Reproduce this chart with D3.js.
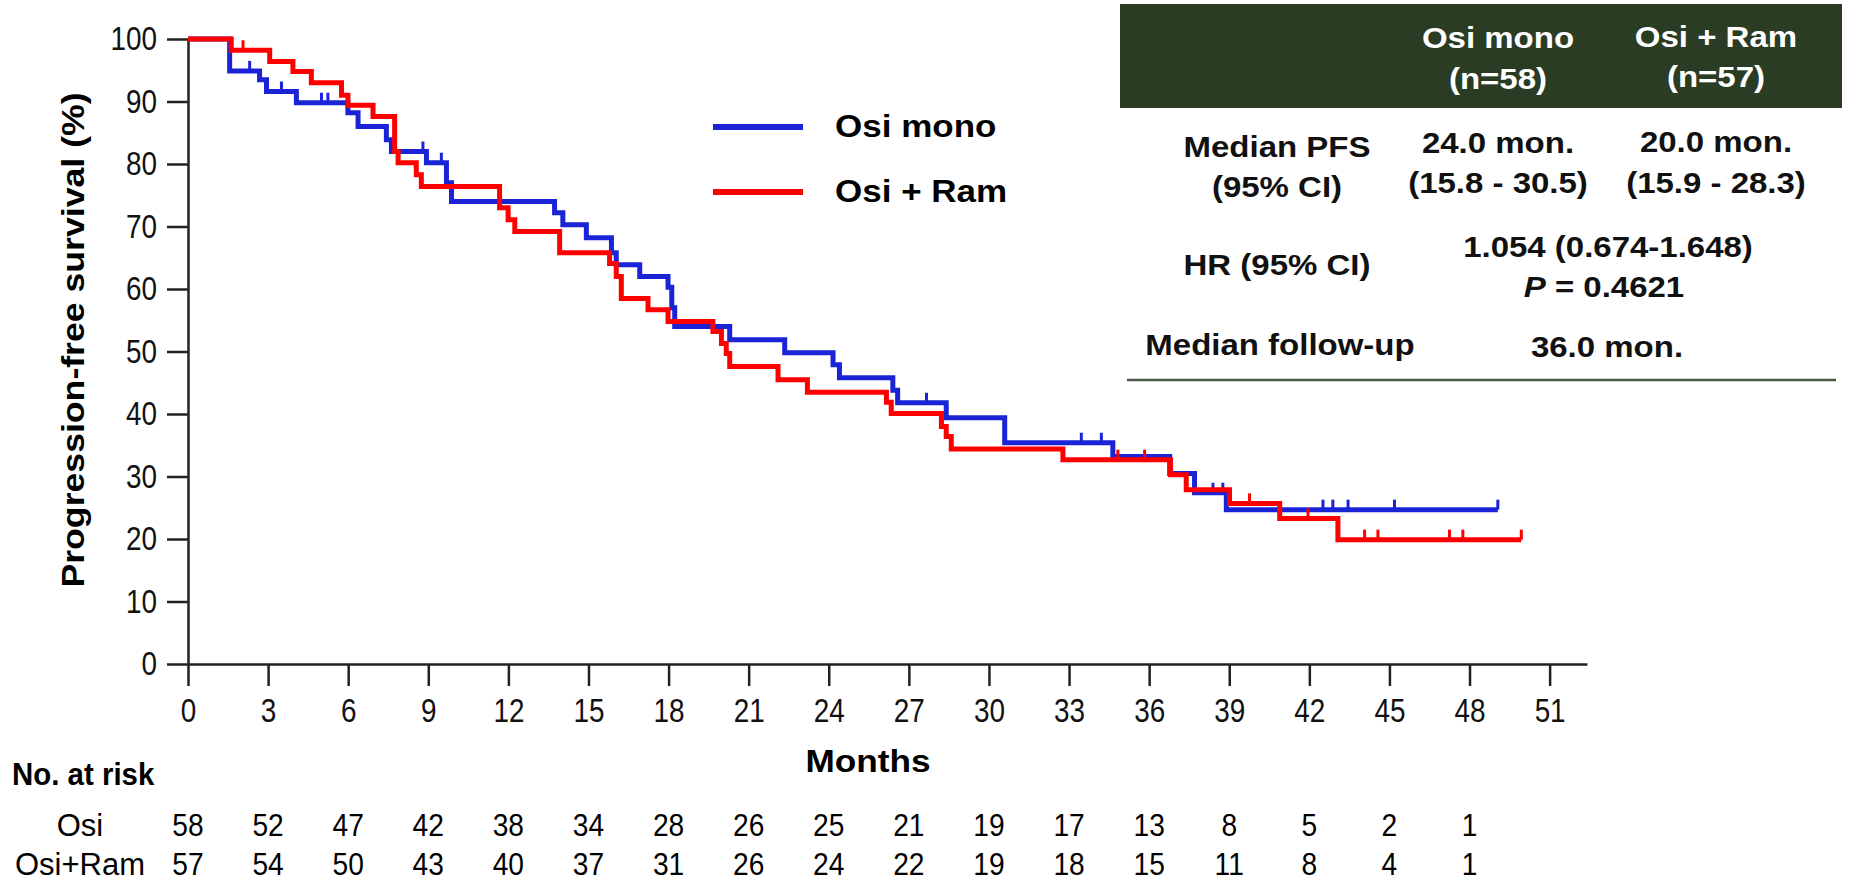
<!DOCTYPE html>
<html>
<head>
<meta charset="utf-8">
<script src="https://cdn.jsdelivr.net/npm/d3@7"></script>
<style>
  body { margin: 0; background: #fff; }
  text { font-family: "Liberation Sans", Arial, sans-serif; }
  .bold { font-weight: bold; }
</style>
</head>
<body>
<div id="chart"></div>
<script>
// Kaplan-Meier steps (months, % progression-free)
var monoTimes = [0, 1.56, 2.68, 2.94, 4.06, 5.99, 6.37, 7.43, 7.62, 8.93, 9.68, 9.87, 13.73, 14.04, 14.92, 15.86, 16.04, 16.92, 17.98, 18.12, 18.23, 20.29, 22.35, 24.16, 24.4, 26.4, 26.58, 28.4, 30.59, 34.64, 36.77, 37.7, 38.89, 49.06];
var monoSurv = [100, 94.9, 93.5, 91.6, 89.8, 88.2, 86.0, 83.9, 82.0, 80.2, 77.0, 74.0, 72.2, 70.3, 68.2, 65.8, 63.9, 62.0, 60.3, 57.0, 54.0, 51.9, 49.8, 47.9, 45.8, 43.8, 41.8, 39.4, 35.4, 33.2, 30.5, 27.4, 24.7, 24.7];
var monoCensor = [2.31, 3.5, 5.0, 5.24, 8.8, 9.49, 27.66, 33.46, 34.21, 38.39, 38.76, 42.51, 42.88, 43.45, 45.19, 49.06];

var ramTimes = [0, 1.62, 3.06, 3.93, 4.62, 5.75, 5.99, 6.93, 7.74, 7.87, 8.55, 8.74, 11.67, 11.99, 12.24, 13.92, 15.79, 16.04, 16.23, 17.23, 17.98, 19.66, 19.98, 20.16, 20.29, 22.1, 23.2, 26.16, 26.34, 28.22, 28.4, 28.59, 32.77, 36.8, 37.39, 39.01, 40.89, 43.07, 49.94];
var ramSurv = [100, 98.2, 96.4, 94.8, 93.0, 91.0, 89.4, 87.6, 82.0, 80.2, 78.3, 76.4, 73.0, 71.1, 69.2, 65.8, 64.1, 62.0, 58.5, 56.7, 54.8, 53.2, 51.3, 49.7, 47.6, 45.5, 43.5, 41.9, 40.1, 38.0, 36.4, 34.4, 32.7, 30.3, 27.9, 25.7, 23.3, 19.9, 19.9];
var ramCensor = [2.06, 34.83, 35.83, 39.76, 41.95, 44.07, 44.57, 47.25, 47.75, 49.94];

// axes
var xTicks = [0, 3, 6, 9, 12, 15, 18, 21, 24, 27, 30, 33, 36, 39, 42, 45, 48, 51];
var yTicks = [0, 10, 20, 30, 40, 50, 60, 70, 80, 90, 100];

// number at risk
var riskTimes = [0, 3, 6, 9, 12, 15, 18, 21, 24, 27, 30, 33, 36, 39, 42, 45, 48];
var riskMono = [58, 52, 47, 42, 38, 34, 28, 26, 25, 21, 19, 17, 13, 8, 5, 2, 1];
var riskRam = [57, 54, 50, 43, 40, 37, 31, 26, 24, 22, 19, 18, 15, 11, 8, 4, 1];

var width = 1870, height = 887;
var blue = "#1a24d6", red = "#ff0000", green = "#2a3c23";

var svg = d3.select("#chart").append("svg")
  .attr("width", width)
  .attr("height", height);

// horizontal stretch of a text around its anchor point (narrow / wide faces)
function stretch(sel, sx) {
  sel.attr("transform", function () {
    var t = d3.select(this), px = +t.attr("x"), py = +t.attr("y");
    return "translate(" + px + "," + py + ") scale(" + sx + ",1) translate(" + -px + "," + -py + ")";
  });
}

var x = d3.scaleLinear().domain([0, 52.4]).range([188, 1587]);
var y = d3.scaleLinear().domain([0, 100]).range([664, 39]);

// x axis
var xAxis = svg.append("g")
  .attr("transform", "translate(0,664)")
  .call(d3.axisBottom(x).tickValues(xTicks).tickSize(22).tickSizeOuter(0).tickPadding(12));

// y axis
var yAxis = svg.append("g")
  .attr("transform", "translate(188,0)")
  .call(d3.axisLeft(y).tickValues(yTicks).tickSize(21).tickSizeOuter(0).tickPadding(10));

[xAxis, yAxis].forEach(function (g) {
  g.selectAll("path, line").attr("stroke", "#222").attr("stroke-width", 2.5);
  g.selectAll("text")
    .attr("fill", "#111")
    .style("font-size", "34px");
});
xAxis.selectAll("text").attr("x", 0);
yAxis.selectAll("text").attr("x", -31).attr("y", 0);
stretch(xAxis.selectAll("text"), 0.82);
stretch(yAxis.selectAll("text"), 0.82);

// axis titles
svg.append("text")
  .attr("class", "bold")
  .attr("transform", "translate(84,340) rotate(-90) scale(1.15,1)")
  .attr("text-anchor", "middle")
  .style("font-size", "31px")
  .text("Progression-free survival (%)");

var months = svg.append("text")
  .attr("class", "bold")
  .attr("x", 868)
  .attr("y", 772)
  .attr("text-anchor", "middle")
  .style("font-size", "32px")
  .text("Months");
stretch(months, 1.1);

// curves
var line = d3.line()
  .x(function (d) { return x(d[0]); })
  .y(function (d) { return y(d[1]); })
  .curve(d3.curveStepAfter);

function survAt(times, surv, t) {
  var s = surv[0];
  for (var i = 0; i < times.length; i++) if (times[i] <= t) s = surv[i];
  return s;
}

function drawCurve(times, surv, censor, color) {
  svg.append("path")
    .datum(times.map(function (t, i) { return [t, surv[i]]; }))
    .attr("fill", "none")
    .attr("stroke", color)
    .attr("stroke-width", 5)
    .attr("d", line);

  svg.selectAll(null)
    .data(censor)
    .enter()
    .append("line")
    .attr("x1", function (d) { return x(d); })
    .attr("x2", function (d) { return x(d); })
    .attr("y1", function (d) { return y(survAt(times, surv, d)); })
    .attr("y2", function (d) { return y(survAt(times, surv, d)) - 10; })
    .attr("stroke", color)
    .attr("stroke-width", 3);
}

drawCurve(monoTimes, monoSurv, monoCensor, blue);
drawCurve(ramTimes, ramSurv, ramCensor, red);

// legend
var legend = [
  { label: "Osi mono", color: blue, y: 127 },
  { label: "Osi + Ram", color: red, y: 192 }
];
legend.forEach(function (d) {
  svg.append("line")
    .attr("x1", 713).attr("x2", 803)
    .attr("y1", d.y).attr("y2", d.y)
    .attr("stroke", d.color)
    .attr("stroke-width", 6);
  var t = svg.append("text")
    .attr("class", "bold")
    .attr("x", 835)
    .attr("y", d.y + 10)
    .style("font-size", "31px")
    .text(d.label);
  stretch(t, 1.13);
});

// summary table
svg.append("rect")
  .attr("x", 1120).attr("y", 4)
  .attr("width", 722).attr("height", 104)
  .attr("fill", green);

svg.append("line")
  .attr("x1", 1127).attr("x2", 1836)
  .attr("y1", 380).attr("y2", 380)
  .attr("stroke", "#4b5a46")
  .attr("stroke-width", 2.5);

var cells = [
  { t: "Osi mono", x: 1498, y: 48, c: "#fff" },
  { t: "(n=58)", x: 1498, y: 89, c: "#fff" },
  { t: "Osi + Ram", x: 1716, y: 47, c: "#fff" },
  { t: "(n=57)", x: 1716, y: 87, c: "#fff" },
  { t: "Median PFS", x: 1277, y: 157 },
  { t: "(95% CI)", x: 1277, y: 197 },
  { t: "24.0 mon.", x: 1498, y: 153 },
  { t: "(15.8 - 30.5)", x: 1498, y: 193 },
  { t: "20.0 mon.", x: 1716, y: 152 },
  { t: "(15.9 - 28.3)", x: 1716, y: 193 },
  { t: "HR (95% CI)", x: 1277, y: 275 },
  { t: "1.054 (0.674-1.648)", x: 1608, y: 257 },
  { t: "Median follow-up", x: 1280, y: 355 },
  { t: "36.0 mon.", x: 1607, y: 357 }
];
var cellText = svg.selectAll(null)
  .data(cells)
  .enter()
  .append("text")
  .attr("class", "bold")
  .attr("x", function (d) { return d.x; })
  .attr("y", function (d) { return d.y; })
  .attr("text-anchor", "middle")
  .attr("fill", function (d) { return d.c || "#111"; })
  .style("font-size", "30px")
  .text(function (d) { return d.t; });
stretch(cellText, 1.1);

var pText = svg.append("text")
  .attr("class", "bold")
  .attr("x", 1604).attr("y", 297)
  .attr("text-anchor", "middle")
  .attr("fill", "#111")
  .style("font-size", "30px");
pText.append("tspan").style("font-style", "italic").text("P");
pText.append("tspan").text(" = 0.4621");
stretch(pText, 1.1);

// number at risk
var noRisk = svg.append("text")
  .attr("class", "bold")
  .attr("x", 12).attr("y", 785)
  .style("font-size", "31px")
  .text("No. at risk");
stretch(noRisk, 0.95);

var riskRows = [
  { label: "Osi", values: riskMono, y: 836 },
  { label: "Osi+Ram", values: riskRam, y: 875 }
];
riskRows.forEach(function (row) {
  svg.append("text")
    .attr("x", 80).attr("y", row.y)
    .attr("text-anchor", "middle")
    .style("font-size", "31px")
    .text(row.label);
  var nums = svg.selectAll(null)
    .data(row.values)
    .enter()
    .append("text")
    .attr("x", function (d, i) { return x(riskTimes[i]); })
    .attr("y", row.y)
    .attr("text-anchor", "middle")
    .style("font-size", "32px")
    .text(function (d) { return d; });
  stretch(nums, 0.88);
});
</script>
</body>
</html>
